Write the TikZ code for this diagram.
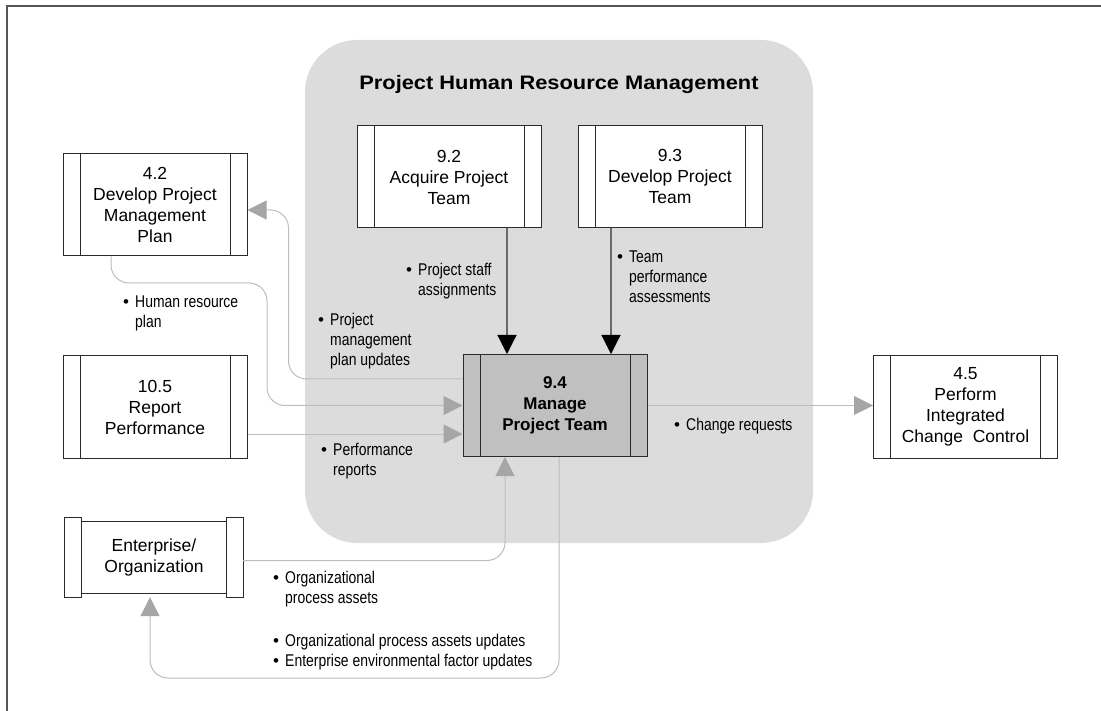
\documentclass[tikz,border=0pt]{standalone}
\usepackage{fontspec}
\setmainfont{Liberation Sans}
\newfontfamily\boxfamily{Liberation Sans}
\newfontfamily\lblfamily{Liberation Sans}[FakeStretch=0.82]
\newfontfamily\ttlfamily{Liberation Sans}[FakeStretch=1.12]
\usetikzlibrary{arrows.meta,calc}
\definecolor{regiongray}{HTML}{DCDCDC}
\definecolor{mptfill}{HTML}{C0C0C0}
\definecolor{linegray}{HTML}{BDBDBD}
\definecolor{headgray}{HTML}{A6A6A6}
\definecolor{boxline}{HTML}{2A2A2A}
\definecolor{darkline}{HTML}{6A6A6A}
\definecolor{framecol}{HTML}{555555}
\newcommand\bul{\makebox[12pt][l]{\boxfamily\textbullet}}
\newcommand\ind{\hspace*{12pt}}
\tikzset{
  procbox/.style={draw=boxline, line width=1pt, fill=white, minimum width=184pt, minimum height=102pt,
    inner sep=0pt, align=center, font=\boxfamily\fontsize{17.5}{21}\selectfont,
    path picture={\draw[boxline, line width=1pt]
      ([xshift=17pt]path picture bounding box.north west) -- ([xshift=17pt]path picture bounding box.south west)
      ([xshift=-17pt]path picture bounding box.north east) -- ([xshift=-17pt]path picture bounding box.south east);}},
  lbl/.style={anchor=north west, inner sep=0pt, align=left, font=\lblfamily\fontsize{17}{20}\selectfont},
  gconn/.style={draw=linegray, line width=1pt, rounded corners=18pt,
    -{Triangle[length=19pt,width=19pt,color=headgray]}},
  bconn/.style={draw=darkline, line width=1.2pt,
    -{Triangle[length=19pt,width=19pt,color=black]}},
  region/.style={fill=regiongray, rounded corners=52pt, minimum width=508pt, minimum height=503pt, inner sep=0pt},
}
\begin{document}
\begin{tikzpicture}[x=1pt,y=-1pt]
\useasboundingbox (0,0) rectangle (1101,711);
% frame
\draw[framecol, line width=1.3pt] (7,711) -- (7,6) -- (1101,6);
% region
\node[region] (hrm) at (559,291.5) {};
\node[anchor=base, font=\ttlfamily\bfseries\fontsize{19.5}{24}\selectfont] (ttl) at (559,90) {Project Human Resource Management};
% process boxes
\node[procbox] (pmp) at (155,205) {4.2\\Develop Project\\Management\\Plan};
\node[procbox] (acq) at (449,177) {9.2\\Acquire Project\\Team};
\node[procbox] (dev) at (670,176.5) {9.3\\Develop Project\\Team};
\node[procbox] (rep) at (155,407) {10.5\\Report\\Performance};
\node[procbox, fill=mptfill, font=\boxfamily\bfseries\fontsize{17}{21}\selectfont] (mpt) at (555,405.5) {9.4\\Manage\\Project Team};
\node[procbox] (ict) at (965.5,407) {4.5\\Perform\\Integrated\\Change~~Control};
% enterprise
\node[minimum width=178pt, minimum height=79pt, inner sep=0pt, align=center,
  font=\boxfamily\fontsize{17.5}{21}\selectfont] (ent) at (154,557.5) {Enterprise/\\Organization};
\draw[boxline, line width=1pt] ($(ent.north west)+(17,4)$) rectangle ($(ent.south east)+(-17,-4)$);
\draw[boxline, line width=1pt] (ent.north west) rectangle ($(ent.south west)+(17,0)$);
\draw[boxline, line width=1pt] (ent.north east) rectangle ($(ent.south east)+(-17,0)$);
% connectors
\draw[gconn] ($(pmp.south)+(-44,0)$) |- (267,283) |- (mpt.west);
\draw[gconn] ($(rep.east)+(0,27)$) -- ($(mpt.west)+(0,28.5)$);
\draw[gconn] ($(mpt.west)+(0,-26.5)$) -| ($(pmp.east)+(41,5)$) -- ($(pmp.east)+(0,5)$);
\draw[gconn] (mpt.east) -- (mpt.east -| ict.west);
\draw[gconn] ($(ent.east)+(0,3)$) -| ($(mpt.south)+(-50,0)$);
\draw[gconn] ($(mpt.south)+(4,0)$) -- ++(0,221) -| ($(ent.south)+(-4,0)$);
\draw[bconn] ($(acq.south)+(58,0)$) -- ($(mpt.north)+(-48,0)$);
\draw[bconn] ($(dev.south)+(-59,0)$) -- ($(mpt.north)+(56,0)$);
% labels
\node[lbl] (l1) at (123,295.5) {\bul Human resource\\\ind plan};
\node[lbl] (l2) at (318,312.5) {\bul Project\\\ind management\\\ind plan updates};
\node[lbl] (l3) at (406,262.5) {\bul Project staff\\\ind assignments};
\node[lbl] (l4) at (617,250.5) {\bul Team\\\ind performance\\\ind assessments};
\node[lbl] (l5) at (321,442.5) {\bul Performance\\\ind reports};
\node[lbl] (l6) at (674,417.5) {\bul Change requests};
\node[lbl] (l7) at (273,571) {\bul Organizational\\\ind process assets};
\node[lbl] (l8) at (273,634) {\bul Organizational process assets updates\\\bul Enterprise environmental factor updates};
\end{tikzpicture}
\end{document}
